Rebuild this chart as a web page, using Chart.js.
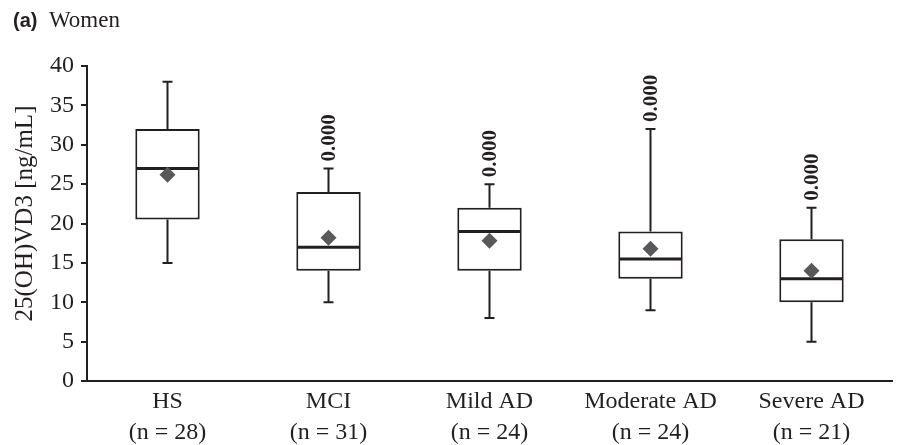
<!DOCTYPE html>
<html>
<head>
<meta charset="utf-8">
<script src="https://cdn.jsdelivr.net/npm/chart.js@4.4.1/dist/chart.umd.min.js"></script>
<style>
    body { margin: 0; background: #fff; }
    #wrap { position: relative; width: 900px; height: 445px; }
</style>
</head>
<body>
<div id="wrap"><canvas id="myChart"></canvas></div>
<script>
// groups and values
const groups = [['HS', '(n = 28)'], ['MCI', '(n = 31)'], ['Mild AD', '(n = 24)'], ['Moderate AD', '(n = 24)'], ['Severe AD', '(n = 21)']];
const whiskerMin = [15, 10, 8, 9, 5];
const q1 = [20.5, 14, 14, 13, 10];
const median = [27, 17, 19, 15.5, 13];
const q3 = [32, 24, 22, 19, 18];
const whiskerMax = [38, 27, 25, 32, 22];
const means = [26.2, 18.2, 17.8, 16.8, 14];
const pValues = ['', '0.000', '0.000', '0.000', '0.000'];
const yTicks = [0, 5, 10, 15, 20, 25, 30, 35, 40];
const yTitle = '25(OH)VD3 [ng/mL]';

const ink = '#231f20';
const serif = "'Liberation Serif', 'Times New Roman', serif";

const ctx = document.getElementById('myChart');

const boxExtras = {
    id: 'boxExtras',
    afterDatasetDraw(chart, args) {
        if (args.index !== 0) return;
        const x = chart.scales.x;
        const y = chart.scales.y;
        const c = chart.ctx;
        c.save();
        c.strokeStyle = ink;
        c.lineCap = 'butt';
        for (let i = 0; i < groups.length; i++) {
            const px = x.getPixelForValue(i);
            const step = x.getPixelForValue(1) - x.getPixelForValue(0);
            const boxHalf = step * 0.4 / 2 - 1;
            const cap = 5;

            // whiskers
            c.lineWidth = 2;
            c.beginPath();
            c.moveTo(px, y.getPixelForValue(q3[i]));
            c.lineTo(px, y.getPixelForValue(whiskerMax[i]));
            c.moveTo(px - cap, y.getPixelForValue(whiskerMax[i]));
            c.lineTo(px + cap, y.getPixelForValue(whiskerMax[i]));
            c.moveTo(px, y.getPixelForValue(q1[i]));
            c.lineTo(px, y.getPixelForValue(whiskerMin[i]));
            c.moveTo(px - cap, y.getPixelForValue(whiskerMin[i]));
            c.lineTo(px + cap, y.getPixelForValue(whiskerMin[i]));
            c.stroke();

            // median
            c.lineWidth = 3;
            c.beginPath();
            c.moveTo(px - boxHalf, y.getPixelForValue(median[i]));
            c.lineTo(px + boxHalf, y.getPixelForValue(median[i]));
            c.stroke();

            // p value above the top whisker
            if (pValues[i]) {
                c.save();
                c.translate(px, y.getPixelForValue(whiskerMax[i]) - 7);
                c.rotate(-Math.PI / 2);
                c.fillStyle = ink;
                c.font = 'bold 21px ' + serif;
                c.textAlign = 'left';
                c.textBaseline = 'middle';
                c.fillText(pValues[i], 0, 1);
                c.restore();
            }
        }
        c.restore();
    },
    afterDraw(chart) {
        const c = chart.ctx;
        const area = chart.chartArea;
        c.save();
        c.fillStyle = ink;
        c.textBaseline = 'alphabetic';
        c.font = "bold 20px 'Liberation Sans', Arial, sans-serif";
        c.fillText('(a)', 13, 27);
        c.font = '23px ' + serif;
        c.fillText('Women', 49, 27);

        // y axis title
        c.translate(25, (area.top + area.bottom) / 2 - 10);
        c.rotate(-Math.PI / 2);
        c.font = '25px ' + serif;
        c.textAlign = 'center';
        c.textBaseline = 'middle';
        c.fillText(yTitle, 0, 0);
        c.restore();
    }
};

let chart = new Chart(ctx, {
    data: {
        labels: groups,
        datasets: [{
            type: 'bar',
            label: 'box',
            data: q1.map((v, i) => [v, q3[i]]),
            backgroundColor: '#ffffff',
            borderColor: ink,
            borderWidth: 2,
            borderSkipped: false,
            barPercentage: 0.4,
            categoryPercentage: 1.0,
            order: 2
        }, {
            type: 'line',
            label: 'mean',
            data: means,
            showLine: false,
            pointStyle: 'rectRot',
            pointRadius: 8,
            pointBackgroundColor: '#58595b',
            pointBorderWidth: 0,
            order: 1
        }]
    },
    options: {
        responsive: true,
        maintainAspectRatio: false,
        animation: false,
        layout: {
            padding: { top: 66, right: 5, bottom: 0, left: 0 }
        },
        plugins: {
            legend: { display: false },
            tooltip: { enabled: false }
        },
        scales: {
            x: {
                grid: { display: false },
                border: { display: true, color: ink, width: 2 },
                ticks: {
                    color: ink,
                    font: { family: serif, size: 24, lineHeight: 1.3 },
                    padding: -3,
                    maxRotation: 0
                },
                afterFit(scale) { scale.height = 64; }
            },
            y: {
                min: 0,
                max: 40,
                afterBuildTicks(scale) { scale.ticks = yTicks.map(v => ({ value: v })); },
                grid: { drawOnChartArea: false, drawTicks: true, tickLength: 6, color: ink, lineWidth: 2 },
                border: { display: true, color: ink, width: 2 },
                ticks: {
                    color: ink,
                    font: { family: serif, size: 24 },
                    padding: 7
                },
                afterFit(scale) { scale.width = 87; }
            }
        }
    },
    plugins: [boxExtras]
});
</script>
</body>
</html>
